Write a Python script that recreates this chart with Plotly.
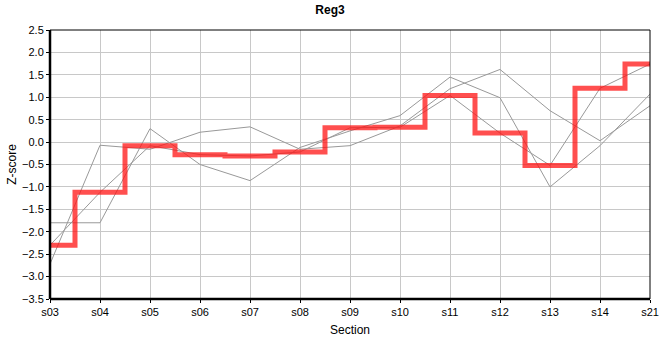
import plotly.graph_objects as go

sections = ["s03", "s04", "s05", "s06", "s07", "s08", "s09", "s10", "s11", "s12", "s13", "s14", "s21"]
reg3 = [-2.30, -1.12, -0.08, -0.28, -0.31, -0.22, 0.32, 0.33, 1.04, 0.20, -0.52, 1.20, 1.74]
other_a = [-1.80, -1.80, 0.30, -0.50, -0.86, -0.12, 0.25, 0.59, 1.45, 0.99, -1.00, -0.08, 1.07]
other_b = [-2.72, -0.07, -0.16, 0.22, 0.34, -0.16, -0.08, 0.36, 1.19, 1.62, 0.70, 0.03, 0.81]
y_ticks = [-3.5, -3.0, -2.5, -2.0, -1.5, -1.0, -0.5, 0.0, 0.5, 1.0, 1.5, 2.0, 2.5]

fig = go.Figure()
for series in (other_a, other_b, reg3):
    fig.add_trace(go.Scatter(x=sections, y=series, mode="lines",
                             line=dict(color="#999999", width=1), hoverinfo="skip"))
fig.add_trace(go.Scatter(x=sections, y=reg3, mode="lines",
                         line=dict(color="rgba(255,20,20,0.75)", width=5, shape="hvh")))

font = "Liberation Sans, Arial, sans-serif"
fig.update_layout(
    width=660, height=360,
    margin=dict(l=50, r=10, t=30, b=61, autoexpand=False),
    paper_bgcolor="white", plot_bgcolor="white",
    showlegend=False,
    font=dict(family=font, size=11, color="#000"),
    title=dict(text="<b>Reg3</b>", x=0.5, xanchor="center", y=0.985, yanchor="top",
               font=dict(family=font, size=12, color="#000")),
    xaxis=dict(type="category", range=[0, len(sections) - 1], showgrid=True,
               gridcolor="#c8c8c8", gridwidth=1, ticks="outside", ticklen=3,
               tickcolor="#000", showline=False, zeroline=False, automargin=False,
               title=dict(text="Section", font=dict(size=12), standoff=8)),
    yaxis=dict(range=[-3.5, 2.5], tickvals=y_ticks, tickformat=".1f", showgrid=True,
               gridcolor="#c8c8c8", gridwidth=1, ticks="outside", ticklen=3,
               tickcolor="#000", showline=False, zeroline=False, automargin=False,
               title=dict(text="Z-score", font=dict(size=12), standoff=2)),
    shapes=[
        dict(type="rect", xref="paper", yref="paper", x0=0, x1=1, y0=0, y1=1,
             line=dict(color="#000", width=1)),
        dict(type="line", xref="paper", yref="paper", x0=0, x1=0, y0=0, y1=1,
             line=dict(color="#000", width=2.5)),
        dict(type="line", xref="paper", yref="paper", x0=0, x1=1, y0=0, y1=0,
             line=dict(color="#000", width=2.5)),
    ],
)
fig.write_html("out.html", config={"displayModeBar": False},
               post_script="document.body.style.margin='0';document.body.style.overflow='hidden';")
